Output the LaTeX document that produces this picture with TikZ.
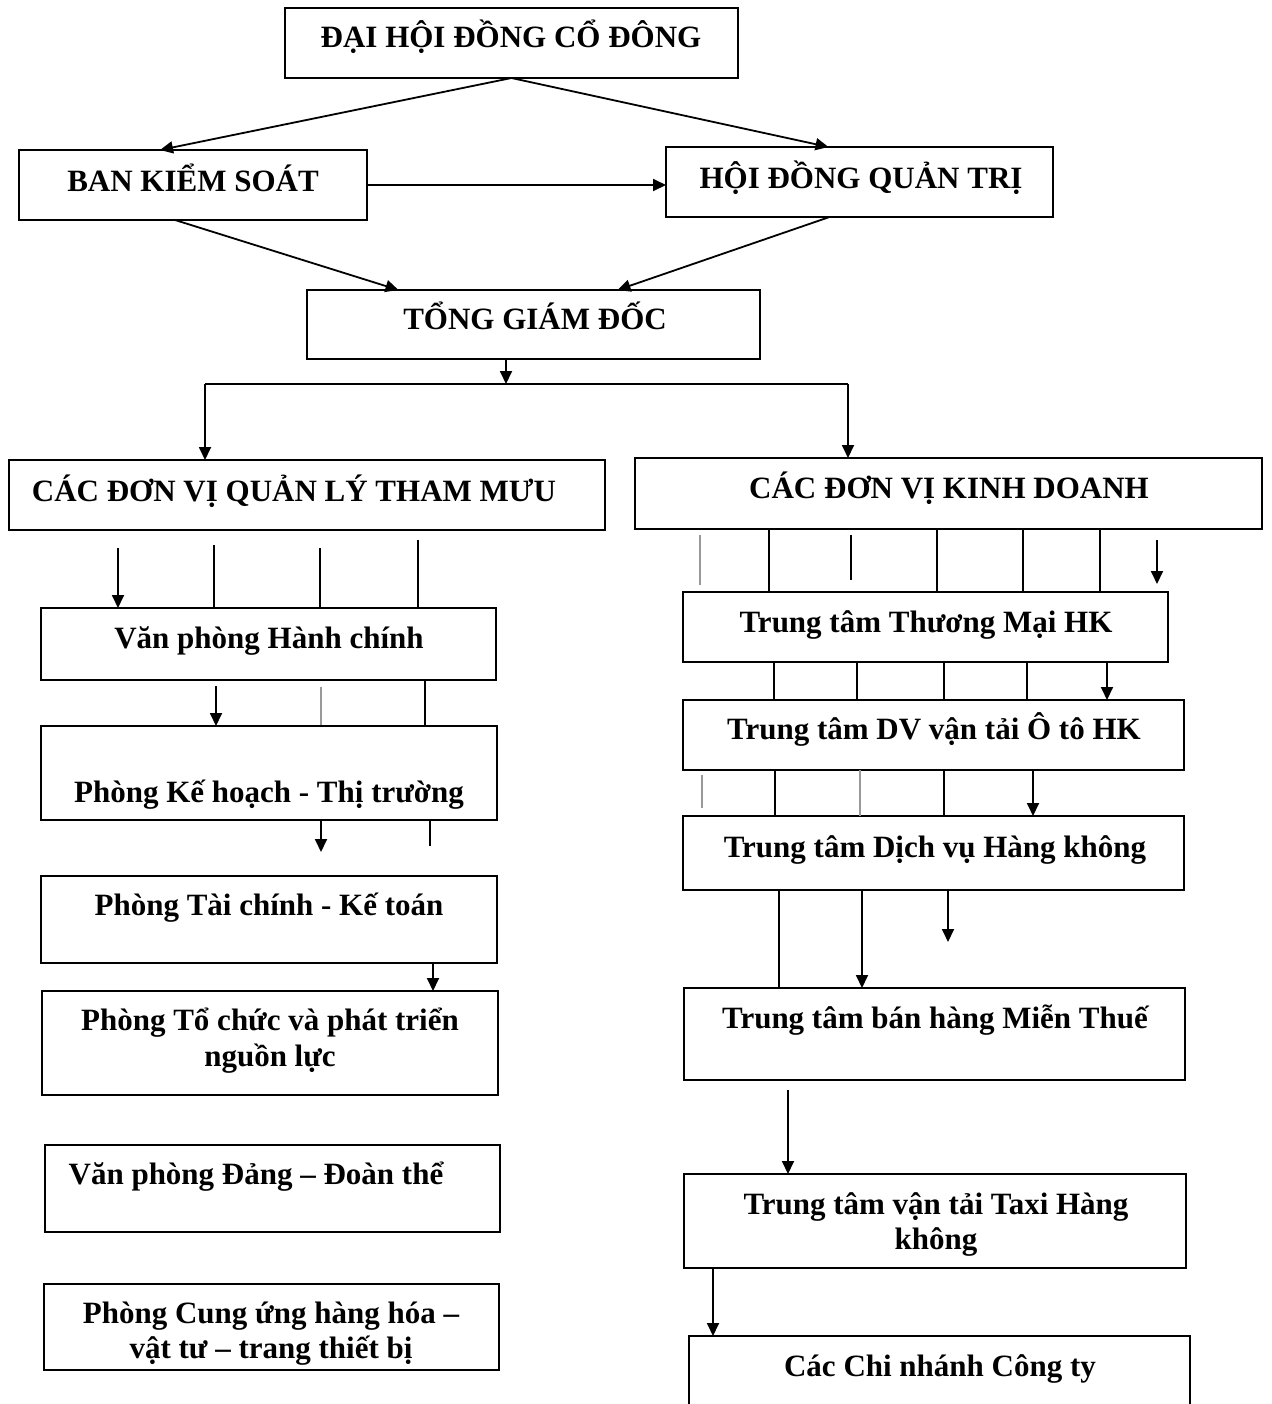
\documentclass[tikz,border=0pt]{standalone}
\usepackage{fontspec}
\setmainfont{Liberation Serif}
\usetikzlibrary{arrows.meta,calc}
\newcommand\mkbox[5]{\node[box,minimum width={(#4-#2)*0.5pt},minimum height={(#5-#3)*0.5pt}] (#1) at (#2,#3) {};}
\newcommand\vlink[4]{\coordinate (vx) at (#2,0); \draw[#1] (#3.south -| vx) -- (#4.north -| vx);}
\newcommand\vin[4]{\coordinate (vs) at (#2,#3); \draw[#1] (vs) -- (vs |- #4.north);}
\newcommand\vout[4]{\coordinate (ve) at (#2,#4); \draw[#1] (ve |- #3.south) -- (ve);}
\newcommand\vfree[4]{\coordinate (fa) at (#2,#3); \coordinate (fb) at (#2,#4); \draw[#1] (fa) -- (fb);}
\begin{document}
\begin{tikzpicture}[x=0.5pt,y=-0.5pt,
  box/.style={draw,line width=1pt,rectangle,inner sep=0pt,outer sep=0pt,anchor=north west},
  lbl/.style={anchor=base,inner sep=0pt,font=\bfseries\fontsize{15.5}{18}\selectfont},
  conn/.style={line width=0.9pt},
  faint/.style={line width=0.9pt,black!40},
  arr/.style={line width=0.9pt,-{Triangle[length=6.5pt,width=6pt]}}]
\useasboundingbox[fill=white] (0,0) rectangle (1272,1404);

% boxes
\mkbox{b1}{285}{8}{738}{78}
\mkbox{b2}{19}{150}{367}{220}
\mkbox{b3}{666}{147}{1053}{217}
\mkbox{b4}{307}{290}{760}{359}
\mkbox{b5}{9}{460}{605}{530}
\mkbox{b6}{635}{458}{1262}{529}
\mkbox{b7}{41}{608}{496}{680}
\mkbox{b8}{41}{726}{497}{820}
\mkbox{b9}{41}{876}{497}{963}
\mkbox{b10}{42}{991}{498}{1095}
\mkbox{b11}{45}{1145}{500}{1232}
\mkbox{b12}{44}{1284}{499}{1370}
\mkbox{b13}{683}{592}{1168}{662}
\mkbox{b14}{683}{700}{1184}{770}
\mkbox{b15}{683}{816}{1184}{890}
\mkbox{b16}{684}{988}{1185}{1080}
\mkbox{b17}{684}{1174}{1186}{1268}
\node[box,draw=none,minimum width={(1190-689)*0.5pt},minimum height={(1410-1336)*0.5pt}] (b18) at (689,1336) {};
\draw[line width=1pt] (b18.south west) -- (b18.north west) -- (b18.north east) -- (b18.south east);

% labels
\node[lbl] (t1) at (511,47) {ĐẠI HỘI ĐỒNG CỔ ĐÔNG};
\node[lbl] (t2) at (193,191) {BAN KIỂM SOÁT};
\node[lbl] (t3) at (861,188) {HỘI ĐỒNG QUẢN TRỊ};
\node[lbl] (t4) at (535,329) {TỔNG GIÁM ĐỐC};
\node[lbl] (t5) at (294,501) {CÁC ĐƠN VỊ QUẢN LÝ THAM MƯU};
\node[lbl] (t6) at (949,498) {CÁC ĐƠN VỊ KINH DOANH};
\node[lbl] (t7) at (269,648) {Văn phòng Hành chính};
\node[lbl] (t8) at (269,802) {Phòng Kế hoạch - Thị trường};
\node[lbl] (t9) at (269,915) {Phòng Tài chính - Kế toán};
\node[lbl] (t10a) at (270,1030) {Phòng Tổ chức và phát triển};
\node[lbl] (t10b) at (270,1066) {nguồn lực};
\node[lbl] (t11) at (256,1184) {Văn phòng Đảng – Đoàn thể};
\node[lbl] (t12a) at (271,1323) {Phòng Cung ứng hàng hóa –};
\node[lbl] (t12b) at (271,1358) {vật tư – trang thiết bị};
\node[lbl] (t13) at (926,632) {Trung tâm Thương Mại HK};
\node[lbl] (t14) at (934,739) {Trung tâm DV vận tải Ô tô HK};
\node[lbl] (t15) at (935,857) {Trung tâm Dịch vụ Hàng không};
\node[lbl] (t16) at (935,1028) {Trung tâm bán hàng Miễn Thuế};
\node[lbl] (t17a) at (936,1214) {Trung tâm vận tải Taxi Hàng};
\node[lbl] (t17b) at (936,1249) {không};
\node[lbl] (t18) at (940,1376) {Các Chi nhánh Công ty};

% top connectors
\draw[arr] (b1.south) -- ($(b2.north)+(-33,0)$);
\draw[arr] (b1.south) -- ($(b3.north)+(-31,0)$);
\draw[arr] (b2.east) -- (b2.east -| b3.west);
\draw[arr] ($(b2.south)+(-18,0)$) -- ($(b4.north)+(-135,0)$);
\draw[arr] ($(b3.south)+(-30,0)$) -- ($(b4.north)+(84,0)$);

% split below TGD
\coordinate (j) at (506,384);
\coordinate (jl) at (205,384);
\coordinate (jr) at (848,384);
\draw[arr] (j |- b4.south) -- (j);
\draw[conn] (jl) -- (jr);
\draw[arr] (jl) -- (jl |- b5.north);
\draw[arr] (jr) -- (jr |- b6.north);

% left column
\vin{arr}{118}{548}{b7}
\vin{conn}{214}{545}{b7}
\vin{conn}{320}{548}{b7}
\vin{conn}{418}{540}{b7}
\vin{arr}{216}{686}{b8}
\vfree{faint}{321}{687}{725}
\vin{conn}{425}{681}{b8}
\vout{arr}{321}{b8}{852}
\vout{conn}{430}{b8}{846}
\vlink{arr}{433}{b9}{b10}

% right column
\vfree{faint}{700}{535}{585}
\vlink{conn}{769}{b6}{b13}
\vfree{conn}{851}{535}{580}
\vlink{conn}{937}{b6}{b13}
\vlink{conn}{1023}{b6}{b13}
\vlink{conn}{1100}{b6}{b13}
\vfree{arr}{1157}{540}{584}

\vlink{conn}{774}{b13}{b14}
\vlink{conn}{857}{b13}{b14}
\vlink{conn}{944}{b13}{b14}
\vlink{conn}{1027}{b13}{b14}
\vlink{arr}{1107}{b13}{b14}

\vfree{faint}{702}{775}{808}
\vlink{conn}{775}{b14}{b15}
\vlink{faint}{860}{b14}{b15}
\vlink{conn}{944}{b14}{b15}
\vlink{arr}{1033}{b14}{b15}

\vlink{conn}{779}{b15}{b16}
\vlink{arr}{862}{b15}{b16}
\vout{arr}{948}{b15}{942}

\vin{arr}{788}{1090}{b17}
\vlink{arr}{713}{b17}{b18}
\end{tikzpicture}
\end{document}
